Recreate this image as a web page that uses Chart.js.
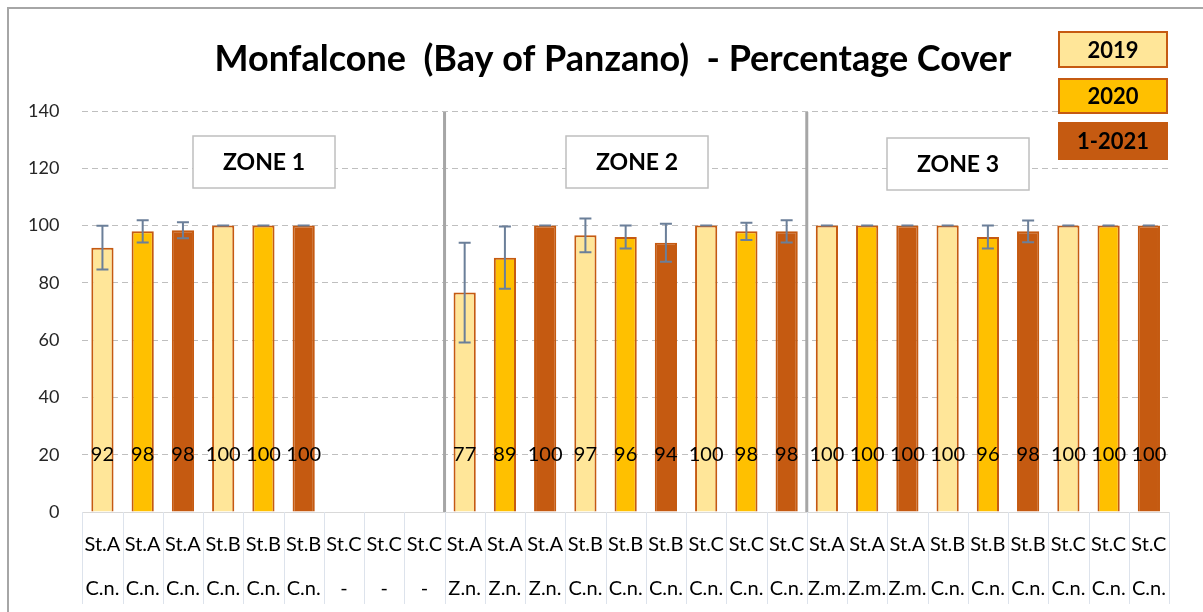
<!DOCTYPE html>
<html>
<head>
<meta charset="utf-8">
<script src="https://cdn.jsdelivr.net/npm/chart.js@4/dist/chart.umd.min.js"></script>
<style>
  body { margin: 0; background: #fff; overflow: hidden; }
  #wrap { position: relative; width: 1203px; height: 612px; overflow: hidden; }
  #frame { position: absolute; left: 7px; top: 7px; right: -5px; bottom: -5px; border: 2px solid #a6a6a6; pointer-events: none; }
</style>
</head>
<body>
<div id="wrap">
  <canvas id="cover" width="1203" height="612"></canvas>
  <div id="frame"></div>
</div>
<script>
const stations = ['St.A','St.A','St.A','St.B','St.B','St.B','St.C','St.C','St.C',
                  'St.A','St.A','St.A','St.B','St.B','St.B','St.C','St.C','St.C',
                  'St.A','St.A','St.A','St.B','St.B','St.B','St.C','St.C','St.C'];
const species = ['C.n.','C.n.','C.n.','C.n.','C.n.','C.n.','-','-','-',
                 'Z.n.','Z.n.','Z.n.','C.n.','C.n.','C.n.','C.n.','C.n.','C.n.',
                 'Z.m.','Z.m.','Z.m.','C.n.','C.n.','C.n.','C.n.','C.n.','C.n.'];
// which survey each bar belongs to: 0 = 2019, 1 = 2020, 2 = 1-2021
const survey = [0,1,2,0,1,2,0,1,2, 0,1,2,0,1,2,0,1,2, 0,1,2,0,1,2,0,1,2];

const cover = [92.3, 98, 98.4, 100, 100, 100, null, null, null,
               76.6, 88.8, 100, 96.6, 96, 94, 100, 98, 98,
               100, 100, 100, 100, 96, 98, 100, 100, 100];
const coverErr = [7.6, 3.9, 2.8, 0, 0, 0, null, null, null,
                  17.4, 10.9, 0, 5.9, 4, 6.6, 0, 3, 3.9,
                  0, 0, 0, 0, 4, 3.8, 0, 0, 0];

const legendLabels = ['2019', '2020', '1-2021'];
const zoneLabels = ['ZONE 1', 'ZONE 2', 'ZONE 3'];

const fills = ['#FFE699', '#FFC000', '#C55A11'];
const edge = '#C55A11';
const font = 'Lato, "Open Sans", sans-serif';

const labels = stations.map((s, i) => [s, species[i]]);

const extras = {
  id: 'extras',
  afterDatasetsDraw(chart) {
    const ctx = chart.ctx;
    const x = chart.scales.x, y = chart.scales.y;
    const area = chart.chartArea;
    ctx.save();

    // category separators below the axis
    ctx.strokeStyle = '#dde3ec';
    ctx.lineWidth = 1;
    for (let i = 0; i <= cover.length; i++) {
      const px = Math.round(x.getPixelForValue(i - 0.5)) + 0.5;
      ctx.beginPath();
      ctx.moveTo(px, area.bottom);
      ctx.lineTo(px, 604);
      ctx.stroke();
    }

    // zone dividers
    ctx.strokeStyle = '#a6a6a6';
    ctx.lineWidth = 3;
    [8.5, 17.5].forEach(v => {
      const px = x.getPixelForValue(v);
      ctx.beginPath();
      ctx.moveTo(px, 112);
      ctx.lineTo(px, area.bottom);
      ctx.stroke();
    });

    // error bars
    ctx.strokeStyle = '#6b7f99';
    ctx.lineWidth = 2;
    cover.forEach((v, i) => {
      if (v === null) return;
      const px = x.getPixelForValue(i);
      const top = y.getPixelForValue(v + coverErr[i]);
      const bot = y.getPixelForValue(v - coverErr[i]);
      ctx.beginPath();
      ctx.moveTo(px, top); ctx.lineTo(px, bot);
      ctx.moveTo(px - 6, top); ctx.lineTo(px + 6, top);
      ctx.moveTo(px - 6, bot); ctx.lineTo(px + 6, bot);
      ctx.stroke();
    });

    // value labels
    ctx.fillStyle = '#000';
    ctx.font = '20px ' + font;
    ctx.textAlign = 'center';
    ctx.textBaseline = 'middle';
    cover.forEach((v, i) => {
      if (v === null) return;
      ctx.fillText(String(Math.round(v)), x.getPixelForValue(i), y.getPixelForValue(20));
    });

    // zone boxes
    ctx.font = 'bold 23px ' + font;
    [[264, 162], [637, 162], [958, 164]].forEach((c, k) => {
      ctx.fillStyle = '#fff';
      ctx.fillRect(c[0] - 71, c[1] - 26, 142, 52);
      ctx.strokeStyle = '#bfbfbf';
      ctx.lineWidth = 1.5;
      ctx.strokeRect(c[0] - 71, c[1] - 26, 142, 52);
      ctx.fillStyle = '#000';
      ctx.fillText(zoneLabels[k], c[0], c[1] + 1);
    });

    // legend
    ctx.font = 'bold 22px ' + font;
    [[31, 37], [78, 36], [122, 38]].forEach((b, k) => {
      ctx.fillStyle = fills[k];
      ctx.fillRect(1058, b[0], 110, b[1]);
      ctx.strokeStyle = edge;
      ctx.lineWidth = 2;
      ctx.strokeRect(1059, b[0] + 1, 108, b[1] - 2);
      ctx.fillStyle = '#000';
      ctx.fillText(legendLabels[k], 1113, b[0] + b[1] / 2 + 1);
    });

    // title
    ctx.font = 'bold 36px ' + font;
    ctx.fillText('Monfalcone  (Bay of Panzano)  - Percentage Cover', 613, 59);
    ctx.restore();
  }
};

new Chart(document.getElementById('cover'), {
  type: 'bar',
  data: {
    labels: labels,
    datasets: [{
      data: cover,
      backgroundColor: survey.map(s => fills[s]),
      borderColor: edge,
      borderWidth: 2,
      barPercentage: 0.6,
      categoryPercentage: 0.92
    }]
  },
  options: {
    responsive: false,
    animation: false,
    layout: { padding: { top: 111, left: 5, right: 34, bottom: -10 } },
    plugins: { legend: { display: false }, tooltip: { enabled: false } },
    scales: {
      y: {
        min: 0, max: 140,
        ticks: { stepSize: 20, color: '#262626', padding: 23, font: { size: 18, family: font } },
        grid: { color: '#bfbfbf', lineWidth: 1, drawTicks: false },
        border: { display: false, dash: [6, 4] }
      },
      x: {
        ticks: { color: '#000', padding: 11, autoSkip: false, maxRotation: 0,
                 font: { size: 20, family: font, lineHeight: 2.2 } },
        grid: { display: false, drawTicks: false },
        border: { display: true, color: '#d9d9d9', width: 1 }
      }
    }
  },
  plugins: [extras]
});
</script>
</body>
</html>
